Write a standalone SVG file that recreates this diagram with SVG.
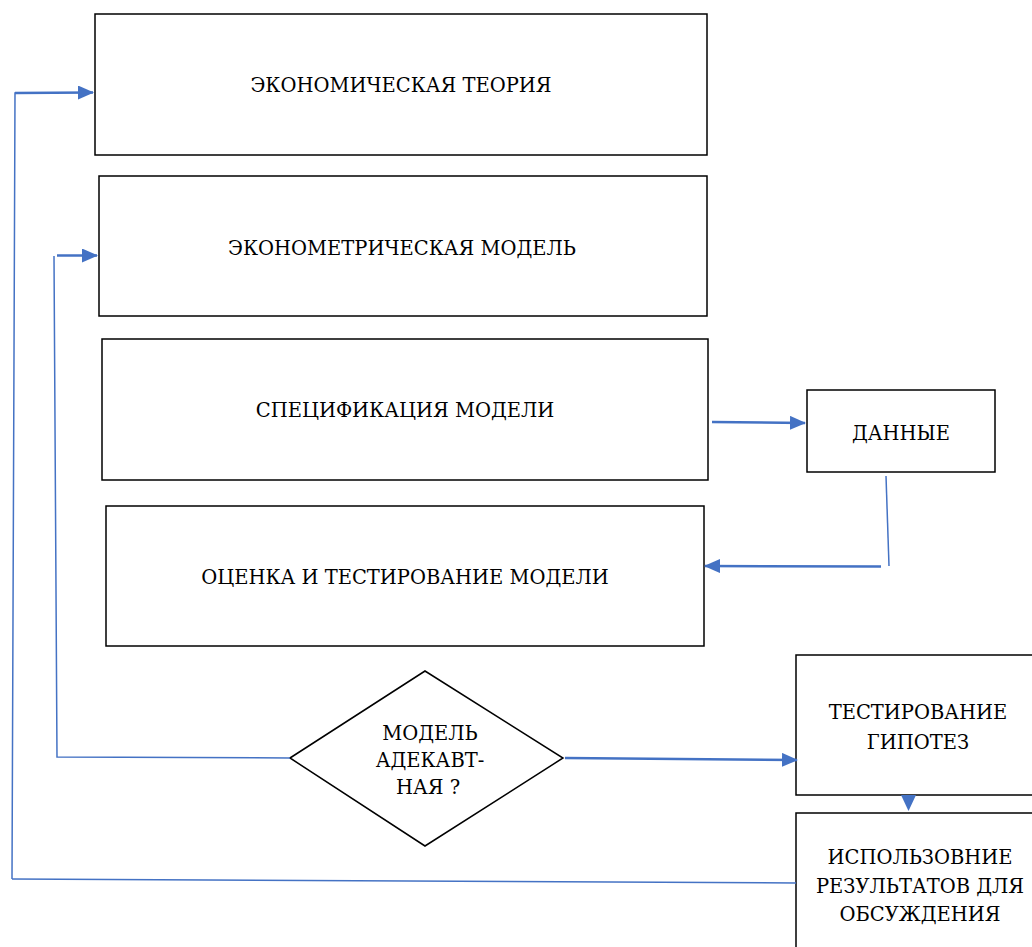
<svg xmlns="http://www.w3.org/2000/svg" width="1032" height="947" viewBox="0 0 1032 947">
<style>
.box{fill:#fff;stroke:#000;stroke-width:1.5}
.c{fill:none;stroke:#4472C4;stroke-width:1.5}
.a{fill:none;stroke:#4472C4;stroke-width:2.5}
.t{font-family:"DejaVu Serif",serif;font-size:19.5px;fill:#000;text-anchor:middle}
</style>
<defs>
<marker id="ah" viewBox="0 0 16 14" refX="15" refY="7" markerWidth="16" markerHeight="14" markerUnits="userSpaceOnUse" orient="auto">
<path d="M0,0 L16,7 L0,14 Z" fill="#4472C4"/>
</marker>
</defs>
<rect width="1032" height="947" fill="#fff"/>
<g id="n1"><rect class="box" x="95" y="14" width="612" height="141"/><text class="t" x="401" y="92">ЭКОНОМИЧЕСКАЯ ТЕОРИЯ</text></g>
<g id="n2"><rect class="box" x="99" y="176" width="608" height="140"/><text class="t" x="402" y="255">ЭКОНОМЕТРИЧЕСКАЯ МОДЕЛЬ</text></g>
<g id="n3"><rect class="box" x="102" y="339" width="606" height="141"/><text class="t" x="405" y="417">СПЕЦИФИКАЦИЯ МОДЕЛИ</text></g>
<g id="n4"><rect class="box" x="106" y="506" width="598" height="140"/><text class="t" x="405" y="584">ОЦЕНКА И ТЕСТИРОВАНИЕ МОДЕЛИ</text></g>
<g id="n5"><rect class="box" x="807" y="390" width="188" height="82"/><text class="t" x="901" y="440">ДАННЫЕ</text></g>
<g id="n6"><polygon class="box" points="290,758 425,671 563,758 425,846"/><text class="t" x="430" y="740">МОДЕЛЬ</text><text class="t" x="430" y="767">АДЕКАВТ-</text><text class="t" x="428" y="794">НАЯ ?</text></g>
<g id="n7"><rect class="box" x="796" y="655" width="250" height="140"/><text class="t" x="918" y="719">ТЕСТИРОВАНИЕ</text><text class="t" x="918" y="749">ГИПОТЕЗ</text></g>
<g id="n8"><rect class="box" x="796" y="813" width="250" height="150"/><text class="t" x="920" y="864">ИСПОЛЬЗОВНИЕ</text><text class="t" x="920" y="893">РЕЗУЛЬТАТОВ ДЛЯ</text><text class="t" x="920" y="921">ОБСУЖДЕНИЯ</text></g>
<g id="connectors">
<polyline class="c" points="796,883 12,879"/>
<polyline class="c" points="12,879 15,93 50,93"/>
<line class="a" x1="15" y1="93" x2="93" y2="92.5" marker-end="url(#ah)"/>
<polyline class="c" points="290,758 57,757 54,256"/>
<line class="a" x1="57" y1="255.5" x2="97" y2="255.5" marker-end="url(#ah)"/>
<line class="a" x1="712" y1="422" x2="805" y2="423" marker-end="url(#ah)"/>
<line class="c" x1="886" y1="476" x2="889" y2="566"/>
<line class="a" x1="881" y1="566.5" x2="705" y2="566" marker-end="url(#ah)"/>
<line class="a" x1="565" y1="758" x2="797" y2="760" marker-end="url(#ah)"/>
<path d="M901,795 L916,795 L908.5,811 Z" fill="#4472C4"/>
</g>
</svg>
